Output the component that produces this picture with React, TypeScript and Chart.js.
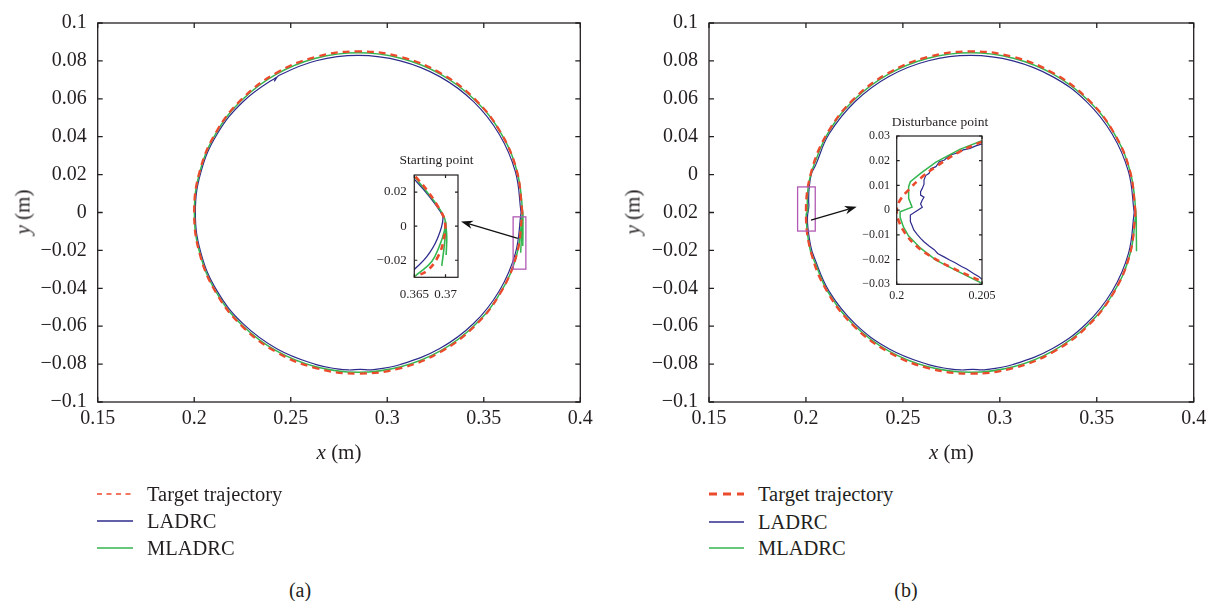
import React, { useEffect, useRef } from 'react';
import { Chart, registerables } from 'chart.js';

Chart.register(...registerables);

type P = [number, number];

// ---------------- data ----------------
const seriesNames = ['Target trajectory', 'LADRC', 'MLADRC'];
const zoomTitles = ['Starting point', 'Disturbance point'];

const targetPath: P[] = [
  [0.3700, 0.0000], [0.3671, 0.0220], [0.3586, 0.0425], [0.3451, 0.0601], [0.3275, 0.0736],
  [0.3070, 0.0821], [0.2850, 0.0850], [0.2630, 0.0821], [0.2425, 0.0736], [0.2249, 0.0601],
  [0.2114, 0.0425], [0.2029, 0.0220], [0.2000, 0.0000], [0.2029, -0.0220], [0.2114, -0.0425],
  [0.2249, -0.0601], [0.2425, -0.0736], [0.2630, -0.0821], [0.2850, -0.0850], [0.3070, -0.0821],
  [0.3275, -0.0736], [0.3451, -0.0601], [0.3586, -0.0425], [0.3671, -0.0220], [0.3700, 0.0000],
];

const ladrcA: P[] = [
  [0.3693, 0.0000], [0.3664, 0.0214], [0.3580, 0.0413], [0.3447, 0.0585], [0.3272, 0.0717],
  [0.3068, 0.0800], [0.2850, 0.0829], [0.2632, 0.0801], [0.2440, 0.0724], [0.2416, 0.0694],
  [0.2424, 0.0713], [0.2254, 0.0586], [0.2119, 0.0414], [0.2035, 0.0214], [0.2006, 0.0000],
  [0.2035, -0.0214], [0.2119, -0.0415], [0.2254, -0.0588], [0.2430, -0.0720], [0.2632, -0.0803],
  [0.2740, -0.0825], [0.2800, -0.0831], [0.2860, -0.0828], [0.2920, -0.0830], [0.3068, -0.0802],
  [0.3272, -0.0718], [0.3447, -0.0586], [0.3580, -0.0414], [0.3664, -0.0214], [0.3693, 0.0000],
];

const mladrcA: P[] = [
  [0.3691, -0.0212], [0.3697, -0.0100], [0.3701, 0.0000], [0.3672, 0.0218], [0.3587, 0.0422],
  [0.3451, 0.0596], [0.3275, 0.0730], [0.3070, 0.0814], [0.2850, 0.0843], [0.2630, 0.0814],
  [0.2426, 0.0730], [0.2250, 0.0596], [0.2115, 0.0422], [0.2030, 0.0218], [0.2001, 0.0000],
  [0.2030, -0.0218], [0.2115, -0.0422], [0.2250, -0.0596], [0.2426, -0.0730], [0.2630, -0.0814],
  [0.2850, -0.0843], [0.3070, -0.0814], [0.3275, -0.0730], [0.3451, -0.0596], [0.3587, -0.0422],
  [0.3672, -0.0218], [0.3701, 0.0000], [0.3703, -0.0080], [0.3702, -0.0177],
];

const ladrcB: P[] = [
  [0.3693, 0.0000], [0.3664, 0.0214], [0.3580, 0.0413], [0.3447, 0.0585], [0.3272, 0.0717],
  [0.3068, 0.0800], [0.2850, 0.0829], [0.2632, 0.0801], [0.2428, 0.0718], [0.2254, 0.0586],
  [0.2119, 0.0414], [0.2050, 0.0250], [0.2028, 0.0203], [0.2016, 0.0122], [0.2014, 0.0061],
  [0.2015, 0.0030], [0.2008, -0.0020], [0.2010, -0.0080], [0.2024, -0.0175], [0.2040, -0.0230],
  [0.2119, -0.0415], [0.2254, -0.0588], [0.2430, -0.0720], [0.2632, -0.0803], [0.2740, -0.0825],
  [0.2800, -0.0831], [0.2860, -0.0828], [0.2920, -0.0830], [0.3068, -0.0802], [0.3272, -0.0718],
  [0.3447, -0.0586], [0.3580, -0.0414], [0.3664, -0.0214], [0.3693, 0.0000],
];

const mladrcB: P[] = [
  [0.3705, -0.0205], [0.3704, -0.0100], [0.3702, 0.0000], [0.3672, 0.0218], [0.3587, 0.0422],
  [0.3451, 0.0596], [0.3275, 0.0730], [0.3070, 0.0814], [0.2850, 0.0843], [0.2630, 0.0814],
  [0.2426, 0.0730], [0.2250, 0.0596], [0.2115, 0.0422], [0.2045, 0.0260], [0.2023, 0.0194],
  [0.2010, 0.0120], [0.2007, 0.0048], [0.2009, 0.0012], [0.2002, -0.0007], [0.2002, -0.0029],
  [0.2007, -0.0105], [0.2023, -0.0202], [0.2045, -0.0260], [0.2115, -0.0422], [0.2250, -0.0596],
  [0.2426, -0.0730], [0.2630, -0.0814], [0.2850, -0.0843], [0.3070, -0.0814], [0.3275, -0.0730],
  [0.3451, -0.0596], [0.3587, -0.0422], [0.3672, -0.0218], [0.3702, 0.0000],
];

// zoom (a): starting point
const zoomATarget: P[] = [
  [0.3652, 0.0290], [0.3670, 0.0212], [0.3688, 0.0114], [0.3699, 0.0026],
  [0.3697, -0.0081], [0.3688, -0.0179], [0.3672, -0.0257], [0.3652, -0.0296],
];
const zoomALadrc: P[] = [
  [0.3644, 0.0300], [0.3652, 0.0267], [0.3670, 0.0193], [0.3688, 0.0105], [0.3696, 0.0046],
  [0.3686, -0.0081], [0.3670, -0.0179], [0.3652, -0.0247], [0.3644, -0.0275],
];
const zoomAMladrc: P[] = [
  [0.3650, 0.0290], [0.3652, 0.0282], [0.3670, 0.0202], [0.3688, 0.0114], [0.3699, 0.0041],
  [0.3698, -0.0031], [0.3690, -0.0119], [0.3678, -0.0207], [0.3657, -0.0276], [0.3650, -0.0295],
];
const zoomAMladrcTail1: P[] = [[0.3700, 0.0026], [0.3699, -0.0081], [0.3694, -0.0233]];
const zoomAMladrcTail2: P[] = [[0.3700, 0.0026], [0.3702, -0.0062], [0.3701, -0.0169]];

// zoom (b): disturbance point
const zoomBTarget: P[] = [
  [0.2050, 0.0277], [0.2037, 0.0237], [0.2023, 0.0176], [0.2014, 0.0129], [0.2007, 0.0082],
  [0.2002, 0.0041], [0.2000, 0.0001], [0.2001, -0.0040], [0.2005, -0.0094], [0.2012, -0.0148],
  [0.2022, -0.0195], [0.2033, -0.0235], [0.2050, -0.0289],
];
const zoomBLadrc: P[] = [
  [0.2050, 0.0268], [0.2046, 0.0259], [0.2043, 0.0250], [0.2039, 0.0244], [0.2035, 0.0230],
  [0.2031, 0.0222], [0.2028, 0.0203], [0.2025, 0.0196], [0.2023, 0.0176], [0.2020, 0.0168],
  [0.2019, 0.0149], [0.2017, 0.0140], [0.2016, 0.0122], [0.2016, 0.0105], [0.2015, 0.0088],
  [0.2014, 0.0075], [0.2014, 0.0061], [0.2016, 0.0052], [0.2015, 0.0041], [0.2014, 0.0025],
  [0.2015, 0.0012], [0.2008, -0.0020], [0.2008, -0.0046], [0.2009, -0.0062], [0.2010, -0.0080],
  [0.2012, -0.0098], [0.2014, -0.0114], [0.2016, -0.0128], [0.2019, -0.0145], [0.2022, -0.0160],
  [0.2024, -0.0175], [0.2028, -0.0190], [0.2031, -0.0202], [0.2034, -0.0212], [0.2038, -0.0228],
  [0.2041, -0.0238], [0.2045, -0.0256], [0.2048, -0.0268], [0.2050, -0.0280],
];
const zoomBMladrc: P[] = [
  [0.2050, 0.0281], [0.2037, 0.0246], [0.2023, 0.0194], [0.2014, 0.0149], [0.2008, 0.0115],
  [0.2007, 0.0095], [0.2007, 0.0048], [0.2009, 0.0012], [0.2002, -0.0007], [0.2002, -0.0029],
  [0.2004, -0.0069], [0.2007, -0.0105], [0.2014, -0.0154], [0.2023, -0.0202], [0.2035, -0.0245],
  [0.2050, -0.0296],
];

// ticks
const mainXTicks = [0.15, 0.2, 0.25, 0.3, 0.35, 0.4];
const mainXLabels = ['0.15', '0.2', '0.25', '0.3', '0.35', '0.4'];
const mainYTicks = [-0.1, -0.08, -0.06, -0.04, -0.02, 0, 0.02, 0.04, 0.06, 0.08, 0.1];
const mainYLabelsA = ['\u22120.1', '\u22120.08', '\u22120.06', '\u22120.04', '\u22120.02', '0', '0.02', '0.04', '0.06', '0.08', '0.1'];
const mainYLabelsB = ['\u22120.1', '\u22120.08', '\u22120.06', '\u22120.04', '\u22120.02', '0.02', '0', '0.04', '0.06', '0.08', '0.1'];
const zoomAXTicks = [0.365, 0.37];
const zoomAXLabels = ['0.365', '0.37'];
const zoomAYTicks = [-0.02, 0, 0.02];
const zoomAYLabels = ['\u22120.02', '0', '0.02'];
const zoomBXTicks = [0.2, 0.205];
const zoomBXLabels = ['0.2', '0.205'];
const zoomBYTicks = [-0.03, -0.02, -0.01, 0, 0.01, 0.02, 0.03];
const zoomBYLabels = ['\u22120.03', '\u22120.02', '\u22120.01', '0', '0.01', '0.02', '0.03'];

// ---------------- styles ----------------
const FONT = '"Liberation Serif", "Times New Roman", serif';
const INK = '#231f20';
const C_TARGET = '#eb4a2c';
const C_LADRC = '#2d2b8c';
const C_MLADRC = '#34b64f';
const C_BOX = '#b25ab4';
const seriesColors = [C_TARGET, C_LADRC, C_MLADRC];

function line(data: P[], color: string, width: number, order: number, tension: number, dash?: number[]) {
  return {
    data: data.map(([x, y]) => ({ x, y })),
    borderColor: color,
    backgroundColor: color,
    borderWidth: width,
    borderDash: dash || [],
    showLine: true,
    pointRadius: 0,
    pointHoverRadius: 0,
    tension,
    order,
    fill: false,
  };
}

interface Spec {
  datasets: any[];
  x: [number, number];
  y: [number, number];
  xTicks: number[];
  xLabels: string[];
  yTicks: number[];
  yLabels: string[];
  font: number;
  xPad: number;
  yPad: number;
  yWidth: number;
  xHeight: number;
  padding: { top: number; right: number; bottom: number; left: number };
  tickLen: number;
  frameWidth: number;
  marks?: { rect: number[]; arrow: number[] };
}

function buildChart(canvas: HTMLCanvasElement, s: Spec) {
  const frame = {
    id: 'frameTicks',
    afterDatasetsDraw(chart: any) {
      const { ctx, chartArea: a } = chart;
      const xs = chart.scales.x;
      const ys = chart.scales.y;
      ctx.save();
      ctx.setLineDash([]);
      if (s.marks) {
        const [rx0, ry0, rx1, ry1] = s.marks.rect;
        const px0 = xs.getPixelForValue(rx0), px1 = xs.getPixelForValue(rx1);
        const py0 = ys.getPixelForValue(ry0), py1 = ys.getPixelForValue(ry1);
        ctx.strokeStyle = C_BOX;
        ctx.lineWidth = 1.3;
        ctx.strokeRect(Math.min(px0, px1), Math.min(py0, py1), Math.abs(px1 - px0), Math.abs(py1 - py0));
        const [ax0, ay0, ax1, ay1] = s.marks.arrow;
        const x0 = xs.getPixelForValue(ax0), y0 = ys.getPixelForValue(ay0);
        const x1 = xs.getPixelForValue(ax1), y1 = ys.getPixelForValue(ay1);
        const ang = Math.atan2(y1 - y0, x1 - x0);
        const c = Math.cos(ang), sn = Math.sin(ang);
        const L = 12, W = 4.2;
        ctx.strokeStyle = '#111';
        ctx.fillStyle = '#111';
        ctx.lineWidth = 1.3;
        ctx.beginPath();
        ctx.moveTo(x0, y0);
        ctx.lineTo(x1 - L * 0.7 * c, y1 - L * 0.7 * sn);
        ctx.stroke();
        ctx.beginPath();
        ctx.moveTo(x1, y1);
        ctx.lineTo(x1 - L * c + W * sn, y1 - L * sn - W * c);
        ctx.lineTo(x1 - L * 0.7 * c, y1 - L * 0.7 * sn);
        ctx.lineTo(x1 - L * c - W * sn, y1 - L * sn + W * c);
        ctx.closePath();
        ctx.fill();
      }
      ctx.strokeStyle = INK;
      ctx.lineWidth = s.frameWidth;
      ctx.beginPath();
      s.xTicks.forEach((v) => {
        const p = xs.getPixelForValue(v);
        ctx.moveTo(p, a.bottom);
        ctx.lineTo(p, a.bottom - s.tickLen);
        ctx.moveTo(p, a.top);
        ctx.lineTo(p, a.top + s.tickLen);
      });
      s.yTicks.forEach((v) => {
        const p = ys.getPixelForValue(v);
        ctx.moveTo(a.left, p);
        ctx.lineTo(a.left + s.tickLen, p);
        ctx.moveTo(a.right, p);
        ctx.lineTo(a.right - s.tickLen, p);
      });
      ctx.stroke();
      ctx.strokeRect(a.left, a.top, a.right - a.left, a.bottom - a.top);
      ctx.restore();
    },
  };

  const tickFont = { family: FONT, size: s.font, weight: 'normal' as const };

  return new Chart(canvas, {
    type: 'scatter',
    data: { datasets: s.datasets },
    options: {
      responsive: false,
      animation: false,
      events: [],
      layout: { padding: s.padding },
      plugins: {
        legend: { display: false },
        tooltip: { enabled: false },
        title: { display: false },
      },
      scales: {
        x: {
          type: 'linear',
          min: s.x[0],
          max: s.x[1],
          bounds: 'data',
          grid: { display: false, drawTicks: false },
          border: { display: false },
          afterBuildTicks: (sc: any) => {
            sc.ticks = s.xTicks.map((v) => ({ value: v }));
          },
          afterFit: (sc: any) => {
            sc.height = s.xHeight;
          },
          ticks: {
            callback: (_v: any, i: number) => s.xLabels[i],
            font: tickFont,
            color: INK,
            padding: s.xPad,
            maxRotation: 0,
            minRotation: 0,
            autoSkip: false,
          },
        },
        y: {
          type: 'linear',
          min: s.y[0],
          max: s.y[1],
          bounds: 'data',
          grid: { display: false, drawTicks: false },
          border: { display: false },
          afterBuildTicks: (sc: any) => {
            sc.ticks = s.yTicks.map((v) => ({ value: v }));
          },
          afterFit: (sc: any) => {
            sc.width = s.yWidth;
          },
          ticks: {
            callback: (_v: any, i: number) => s.yLabels[i],
            font: tickFont,
            color: INK,
            padding: s.yPad,
            autoSkip: false,
          },
        },
      },
    } as any,
    plugins: [frame],
  });
}

function ChartBox({ spec, left, top, width, height }: { spec: Spec; left: number; top: number; width: number; height: number }) {
  const ref = useRef<HTMLCanvasElement>(null);
  useEffect(() => {
    const chart = buildChart(ref.current as HTMLCanvasElement, spec);
    return () => chart.destroy();
  }, []);
  return (
    <canvas
      ref={ref}
      width={width}
      height={height}
      style={{ position: 'absolute', left, top, width, height }}
    />
  );
}

// ---------------- chart specs ----------------
const mainCommon = {
  x: [0.15, 0.4] as [number, number],
  y: [-0.1, 0.1] as [number, number],
  xTicks: mainXTicks,
  xLabels: mainXLabels,
  yTicks: mainYTicks,
  font: 20,
  xPad: 4.5,
  yPad: 11,
  xHeight: 38,
  tickLen: 5,
  frameWidth: 1.3,
};

const specMainA: Spec = {
  ...mainCommon,
  datasets: [
    line(targetPath, C_TARGET, 2.3, 0, 0.4, [7, 5]),
    line(ladrcA, C_LADRC, 1.2, 2, 0.4),
    line(mladrcA, C_MLADRC, 1.5, 1, 0.4),
  ],
  yLabels: mainYLabelsA,
  yWidth: 97.7,
  padding: { top: 20.7, right: 19.7, bottom: 0, left: 0 },
  marks: { rect: [0.3652, -0.0299, 0.3718, -0.0023], arrow: [0.3676, -0.0136, 0.3382, -0.0047] },
};

const specMainB: Spec = {
  ...mainCommon,
  datasets: [
    line(targetPath, C_TARGET, 2.3, 0, 0.4, [7, 5]),
    line(ladrcB, C_LADRC, 1.2, 2, 0.4),
    line(mladrcB, C_MLADRC, 1.5, 1, 0.4),
  ],
  yLabels: mainYLabelsB,
  yWidth: 109,
  padding: { top: 20.7, right: 17.3, bottom: 0, left: 0 },
  marks: { rect: [0.1957, -0.0098, 0.2048, 0.0135], arrow: [0.2026, -0.0040, 0.2262, 0.0030] },
};

const specZoomA: Spec = {
  datasets: [
    line(zoomATarget, C_TARGET, 2.6, 0, 0.4, [6, 5]),
    line(zoomALadrc, C_LADRC, 1.3, 2, 0.4),
    line(zoomAMladrc, C_MLADRC, 1.6, 1, 0.4),
    line(zoomAMladrcTail1, C_MLADRC, 1.6, 1, 0.4),
    line(zoomAMladrcTail2, C_MLADRC, 1.6, 1, 0.4),
  ],
  x: [0.365, 0.372],
  y: [-0.03, 0.03],
  xTicks: zoomAXTicks,
  xLabels: zoomAXLabels,
  yTicks: zoomAYTicks,
  yLabels: zoomAYLabels,
  font: 13,
  xPad: 9,
  yPad: 7.6,
  yWidth: 44.3,
  xHeight: 27.7,
  padding: { top: 30, right: 44, bottom: 0, left: 0 },
  tickLen: 3,
  frameWidth: 1.2,
};

const specZoomB: Spec = {
  datasets: [
    line(zoomBTarget, C_TARGET, 2.6, 0, 0.4, [6, 5]),
    line(zoomBLadrc, C_LADRC, 1.2, 2, 0),
    line(zoomBMladrc, C_MLADRC, 1.5, 1, 0),
  ],
  x: [0.2, 0.205],
  y: [-0.03, 0.03],
  xTicks: zoomBXTicks,
  xLabels: zoomBXLabels,
  yTicks: zoomBYTicks,
  yLabels: zoomBYLabels,
  font: 12,
  xPad: 4.2,
  yPad: 6.7,
  yWidth: 46.7,
  xHeight: 35.7,
  padding: { top: 36, right: 47, bottom: 0, left: 0 },
  tickLen: 3,
  frameWidth: 1.2,
};

// ---------------- html text helpers ----------------
function Label({ cx, cy, size, rotate, children }: { cx: number; cy: number; size: number; rotate?: boolean; children: React.ReactNode }) {
  return (
    <div
      style={{
        position: 'absolute',
        left: cx,
        top: cy,
        transform: `translate(-50%, -50%)${rotate ? ' rotate(-90deg)' : ''}`,
        fontFamily: FONT,
        fontSize: size,
        color: INK,
        whiteSpace: 'nowrap',
        lineHeight: 1,
      }}
    >
      {children}
    </div>
  );
}

function Legend({ x0, x1, tx, rows, thick }: { x0: number; x1: number; tx: number; rows: number[]; thick: boolean }) {
  return (
    <>
      {seriesNames.map((name, i) => {
        const dashed = i === 0;
        const w = dashed ? (thick ? 3 : 1.7) : 1.5;
        return (
          <React.Fragment key={name}>
            <svg
              width={x1 - x0}
              height={10}
              style={{ position: 'absolute', left: x0, top: rows[i] - 5 }}
            >
              <line
                x1={0}
                y1={5}
                x2={x1 - x0}
                y2={5}
                stroke={seriesColors[i]}
                strokeWidth={w}
                strokeDasharray={dashed ? (thick ? '8 6' : '5 4.5') : undefined}
              />
            </svg>
            <div
              style={{
                position: 'absolute',
                left: tx,
                top: rows[i],
                transform: 'translateY(-50%)',
                fontFamily: FONT,
                fontSize: 20.5,
                color: INK,
                whiteSpace: 'nowrap',
                lineHeight: 1,
              }}
            >
              {name}
            </div>
          </React.Fragment>
        );
      })}
    </>
  );
}

export default function App() {
  return (
    <div style={{ position: 'absolute', left: 0, top: 0, width: 1211, height: 601, background: '#fff', overflow: 'hidden' }}>
      <ChartBox spec={specMainA} left={0} top={0} width={600} height={440} />
      <ChartBox spec={specMainB} left={600} top={0} width={611} height={440} />
      <ChartBox spec={specZoomA} left={370} top={145} width={132} height={160} />
      <ChartBox spec={specZoomB} left={850} top={100} width={179} height={220} />

      <Label cx={436.5} cy={160} size={13.5}>{zoomTitles[0]}</Label>
      <Label cx={940} cy={121.7} size={13.5}>{zoomTitles[1]}</Label>

      <Label cx={339} cy={451.7} size={21}><i>x</i> (m)</Label>
      <Label cx={951.4} cy={451.7} size={21}><i>x</i> (m)</Label>
      <Label cx={23} cy={211.5} size={21} rotate><i>y</i> (m)</Label>
      <Label cx={633.3} cy={211.5} size={21} rotate><i>y</i> (m)</Label>

      <Legend x0={97} x1={133} tx={147} rows={[494, 521, 548]} thick={false} />
      <Legend x0={709} x1={744} tx={758} rows={[494, 521.7, 548.3]} thick={true} />

      <Label cx={300} cy={590} size={20}>(a)</Label>
      <Label cx={906} cy={590} size={20}>(b)</Label>
    </div>
  );
}
